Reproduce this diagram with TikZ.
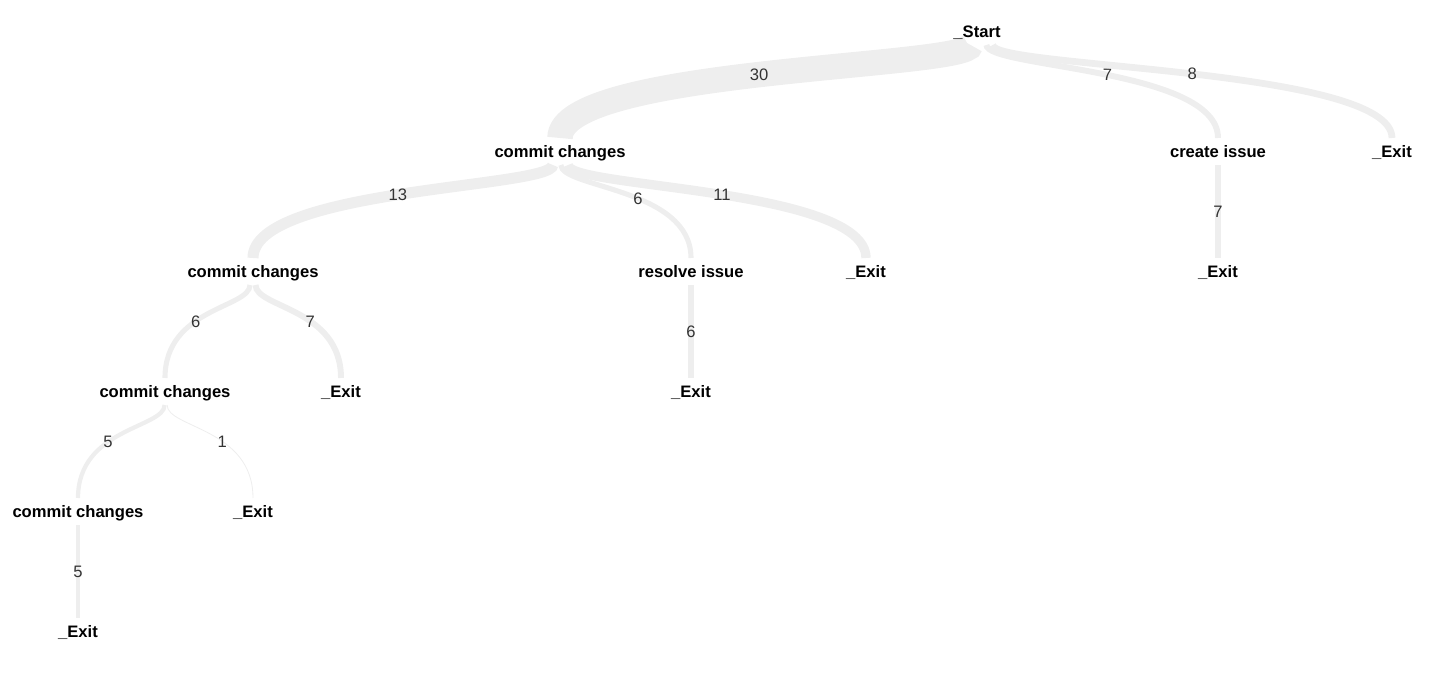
\documentclass[tikz,border=0pt]{standalone}
\usepackage{fontspec}
\setmainfont{Liberation Sans}
\usetikzlibrary{positioning,calc,backgrounds}
\definecolor{flowgray}{HTML}{EEEEEE}
\definecolor{countgray}{HTML}{333333}
\tikzset{activity/.style={inner sep=0pt, anchor=center, text=black,
    text height=6pt, text depth=0pt,
    font=\fontsize{8.3}{10}\selectfont\bfseries},
  count/.style={inner sep=0pt, text=countgray,
    text height=6pt, text depth=0pt,
    font=\fontsize{8.3}{10}\selectfont},
  flow/.style={draw=flowgray, line cap=butt}
}
% source, target, count, shift at source, label position
\newcommand{\flowlink}[5]{%
  \draw [flow, line width=#3*0.425pt] ($(#1)+(#4,13)$)
    .. controls ($(#1)+(#4,36)$) and ($(#2 |- #1)+(0,36)$) .. ($(#2)+(0,-14)$)
    node [count, pos=#5] {#3};
}

\begin{document}
\begin{tikzpicture}[x=0.5pt, y=-0.5pt]
  \useasboundingbox (0,0) rectangle (1430,688);

   %Start node
   \node (start) [activity] at (977,32) {\_Start};
   %first level
   \node (commitA) [activity] at (560,152) {commit changes};
   \node (create) [activity] at (1218,152) {create issue};
   \node (exitA) [activity] at (1392,152) {\_Exit};
   %second level
   \node (commitB) [activity] at (253,272) {commit changes};
   \node (resolve) [activity] at (691,272) {resolve issue};
   \node (exitB) [activity] at (866,272) {\_Exit};
   \node (exitC) [activity] at (1218,272) {\_Exit};
   %third level
   \node (commitC) [activity] at (165,392) {commit changes};
   \node (exitD) [activity] at (341,392) {\_Exit};
   \node (exitE) [activity] at (691,392) {\_Exit};
   %fourth level
   \node (commitD) [activity] at (78,512) {commit changes};
   \node (exitF) [activity] at (253,512) {\_Exit};
   %fifth level
   \node (exitG) [activity] at (78,632) {\_Exit};

   %flows
   \begin{pgfonlayer}{background}
   \flowlink{start}{commitA}{30}{-6.4}{0.51}
   \flowlink{start}{create}{7}{9.4}{0.515}
   \flowlink{start}{exitA}{8}{15.7}{0.5}
   \flowlink{commitA}{commitB}{13}{-7.2}{0.511}
   \flowlink{commitA}{resolve}{6}{0.85}{0.562}
   \flowlink{commitA}{exitB}{11}{8.1}{0.511}
   \flowlink{create}{exitC}{7}{0}{0.705}
   \flowlink{commitB}{commitC}{6}{-3}{0.593}
   \flowlink{commitB}{exitD}{7}{2.55}{0.594}
   \flowlink{resolve}{exitE}{6}{0}{0.705}
   \flowlink{commitC}{commitD}{5}{-0.4}{0.603}
   \flowlink{commitC}{exitF}{1}{2.1}{0.595}
   \flowlink{commitD}{exitG}{5}{0}{0.705}
   \end{pgfonlayer}

\end{tikzpicture}
\end{document}
